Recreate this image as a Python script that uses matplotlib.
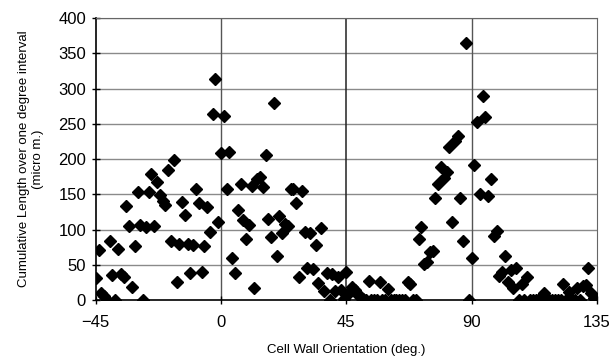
import matplotlib.pyplot as plt
import numpy as np

plt.rcParams["font.family"] = ["Liberation Sans", "DejaVu Sans"]

# one value per degree, -45 .. 135
angles = np.arange(-45, 136)
lengths = [
    31, 71, 10, 6, 0, 84, 35, 0, 73, 37,            # -45 .. -36
    33, 133, 105, 18, 77, 153, 107, 0, 103, 153,     # -35 .. -26
    179, 105, 168, 149, 140, 135, 184, 84, 199, 25,  # -25 .. -16
    79, 139, 121, 79, 39, 78, 157, 138, 40, 77,      # -15 .. -6
    132, 96, 264, 314, 110, 208, 261, 157, 210, 59,  # -5 .. 4
    39, 128, 165, 113, 87, 106, 162, 17, 172, 175,   # 5 .. 14
    160, 206, 115, 90, 279, 62, 119, 95, 108, 105,   # 15 .. 24
    158, 157, 138, 32, 155, 97, 45, 95, 44, 78,      # 25 .. 34
    24, 102, 13, 38, 0, 37, 13, 33, 14, 2,           # 35 .. 44
    40, 10, 19, 14, 9, 5, 2, 0, 27, 0,               # 45 .. 54
    0, 0, 26, 0, 0, 15, 0, 0, 0, 0,                  # 55 .. 64
    0, 0, 25, 22, 0, 0, 86, 104, 51, 54,             # 65 .. 74
    68, 70, 144, 165, 189, 173, 181, 217, 111, 225,  # 75 .. 84
    233, 144, 84, 365, 0, 59, 191, 253, 151, 290,    # 85 .. 94
    259, 148, 171, 91, 98, 34, 40, 62, 25, 42,       # 95 .. 104
    17, 45, 0, 23, 0, 32, 0, 0, 0, 0,                # 105 .. 114
    0, 10, 0, 0, 0, 0, 0, 0, 23, 0,                  # 115 .. 124
    12, 0, 0, 17, 0, 20, 21, 45, 10, 3,              # 125 .. 134
    0,                                               # 135
]
x_ticks = [-45, 0, 45, 90, 135]
y_ticks = list(range(0, 401, 50))

fig = plt.figure(figsize=(6.14, 3.61), dpi=100)
ax = fig.add_axes([0.156, 0.169, 0.816, 0.781])

for y in y_ticks[1:]:
    ax.axhline(y, color="#8a8a8a", lw=1, zorder=1)
for x in [0, 90]:
    ax.axvline(x, color="#555555", lw=1, zorder=1)
ax.axvline(45, color="#222222", lw=1.1, zorder=1)

ax.plot(angles, lengths, "D", color="black", markersize=5.8, zorder=3)

ax.set_xlim(-45, 135)
ax.set_ylim(0, 400)
ax.set_xticks(x_ticks)
ax.set_yticks(y_ticks)
ax.tick_params(direction="inout", length=6, width=1, labelsize=12, pad=4)
ax.tick_params(axis="x", pad=8)

for side in ["top", "right"]:
    ax.spines[side].set_color("#666666")
for side in ["left", "bottom"]:
    ax.spines[side].set_color("black")
    ax.spines[side].set_linewidth(1.2)

ax.set_xlabel("Cell Wall Orientation (deg.)", fontsize=9.5, labelpad=10)
ax.set_ylabel("Cumulative Length over one degree interval\n(micro m.)",
              fontsize=9.5, labelpad=10)

fig.savefig("out.png", dpi=100)
